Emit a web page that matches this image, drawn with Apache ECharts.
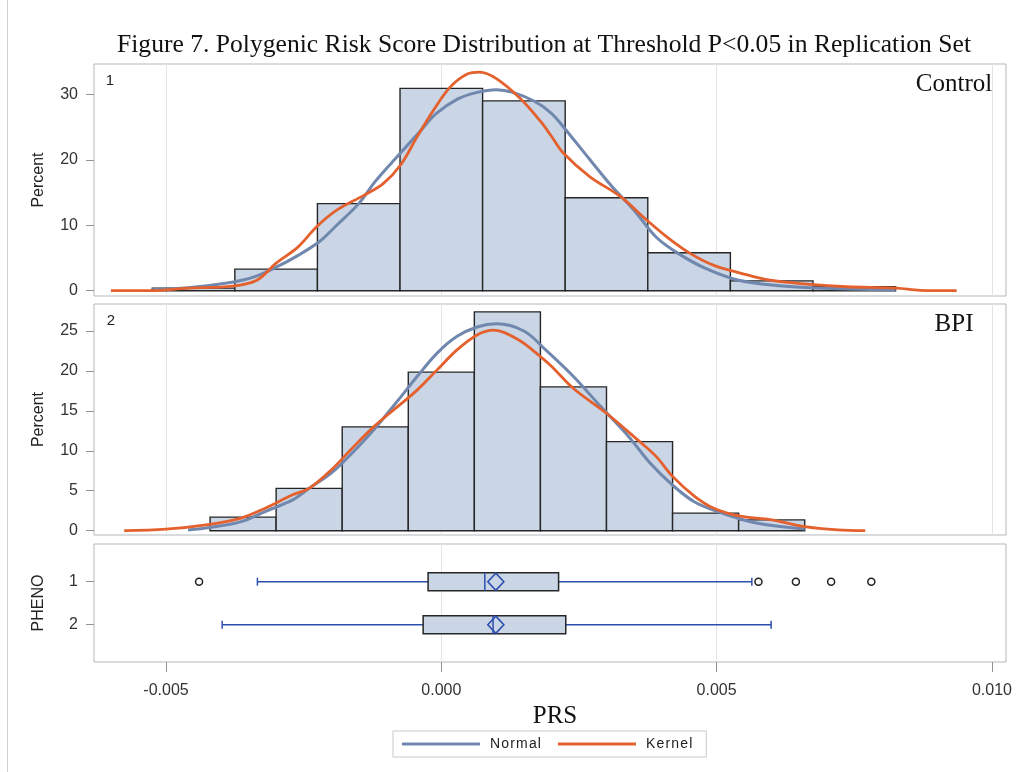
<!DOCTYPE html>
<html><head><meta charset="utf-8">
<script src="https://cdn.jsdelivr.net/npm/echarts@6/dist/echarts.min.js"></script>
<style>html,body{margin:0;padding:0;background:#fff}#c{width:1023px;height:772px}</style>
</head><body><div id="c"></div>
<script>
// ---------- data ----------
const titleText = 'Figure 7. Polygenic Risk Score Distribution at Threshold P<0.05 in Replication Set';
const groupNames = ['Control', 'BPI'];
const phenoLabels = ['1', '2'];

const xTicks = [-0.005, 0, 0.005, 0.010];
const xTickLabels = ['-0.005', '0.000', '0.005', '0.010'];
const yTicksCtrl = [0, 10, 20, 30];
const yTicksBpi = [0, 5, 10, 15, 20, 25];
const yTicksPheno = [1, 2];

// histogram: bin centres and percent heights
const ctrlBinWidth = 0.0015;
const ctrlBinCenters = [-0.0045, -0.003, -0.0015, 0, 0.0015, 0.003, 0.0045, 0.006, 0.0075];
const ctrlPercent = [0.4, 3.3, 13.3, 30.9, 29.0, 14.2, 5.8, 1.5, 0.6];

const bpiBinWidth = 0.0012;
const bpiBinCenters = [-0.0036, -0.0024, -0.0012, 0, 0.0012, 0.0024, 0.0036, 0.0048, 0.006];
const bpiPercent = [1.7, 5.3, 13.0, 19.85, 27.4, 18.0, 11.15, 2.2, 1.35];

// density curves
const ctrlNormalX = [-0.00525, -0.0046, -0.0038, -0.0034, -0.0030, -0.0026, -0.0022, -0.0019, -0.0015, -0.0012, -0.0008, -0.0004, -0.0001, 0.0003, 0.00065, 0.001, 0.0013, 0.0017, 0.0020, 0.0022, 0.0027, 0.0031, 0.0035, 0.0039, 0.0043, 0.0048, 0.0054, 0.0062, 0.0068, 0.00825];
const ctrlNormalY = [0.2, 0.45, 1.3, 2.1, 3.6, 5.4, 7.6, 10.0, 13.3, 16.7, 20.5, 24.2, 27.0, 29.3, 30.3, 30.7, 30.3, 28.9, 27.1, 25.2, 20.0, 15.9, 12.3, 8.2, 5.7, 3.4, 1.6, 0.7, 0.4, 0.1];

const ctrlKernelX = [-0.0060, -0.0053, -0.0046, -0.0038, -0.00335, -0.0030, -0.0026, -0.00226, -0.0019, -0.0014, -0.00105, -0.00074, -0.00044, -0.00014, 0.00016, 0.00047, 0.0007, 0.001, 0.00143, 0.0018, 0.0020, 0.00222, 0.0027, 0.00325, 0.00373, 0.0041, 0.00452, 0.00494, 0.00543, 0.00597, 0.00664, 0.00736, 0.00827, 0.0087, 0.00936];
const ctrlKernelY = [0.0, 0.0, 0.4, 0.7, 1.6, 4.2, 6.7, 9.8, 12.3, 14.6, 16.4, 19.2, 23.5, 27.6, 31.1, 33.1, 33.4, 32.4, 29.4, 25.9, 23.6, 21.0, 17.4, 14.4, 10.8, 8.2, 5.7, 3.9, 2.7, 1.6, 1.0, 0.6, 0.4, 0.05, 0.0];

const bpiNormalX = [-0.0046, -0.0042, -0.00365, -0.0032, -0.0027, -0.0024, -0.0020, -0.00165, -0.00123, -0.0008, -0.00044, -0.00008, 0.00028, 0.00065, 0.001, 0.0015, 0.0019, 0.0024, 0.0029, 0.0034, 0.0038, 0.0042, 0.0046, 0.0051, 0.0057, 0.0066];
const bpiNormalY = [0.1, 0.4, 1.1, 2.4, 3.85, 5.3, 7.2, 9.5, 12.6, 16.2, 19.3, 22.2, 24.3, 25.5, 25.9, 25.0, 22.6, 19.3, 15.5, 11.8, 8.4, 5.7, 3.6, 2.2, 1.0, 0.2];

const bpiKernelX = [-0.00576, -0.0050, -0.0042, -0.00365, -0.0032, -0.0027, -0.0024, -0.0020, -0.00165, -0.00123, -0.0008, -0.00044, -0.00008, 0.00028, 0.00065, 0.00095, 0.0014, 0.0018, 0.0020, 0.0024, 0.0030, 0.00356, 0.0039, 0.0042, 0.0046, 0.00495, 0.0054, 0.0060, 0.0066, 0.0072, 0.0077];
const bpiKernelY = [0.0, 0.2, 0.8, 1.55, 2.8, 4.5, 5.3, 7.6, 10.1, 13.0, 15.5, 17.6, 20.1, 22.6, 24.5, 25.1, 23.9, 21.8, 20.6, 17.8, 14.7, 11.4, 9.3, 6.8, 4.3, 2.8, 1.85, 1.35, 0.5, 0.1, 0.0];

// box plot: [PHENO, lower whisker, Q1, median, Q3, upper whisker, mean]
const boxPheno = [1, 2];
const boxLow = [-0.00334, -0.00398];
const boxQ1 = [-0.00024, -0.00033];
const boxMedian = [0.00079, 0.00094];
const boxQ3 = [0.00213, 0.00226];
const boxHigh = [0.00564, 0.00599];
const boxMean = [0.00099, 0.00099];
const outlierX = [-0.0044, 0.00576, 0.00644, 0.00708, 0.00781];
const outlierPheno = [1, 1, 1, 1, 1];

const legendNames = ['Normal', 'Kernel'];

// ---------- styles ----------
const SANS = "'Liberation Sans', Arial, sans-serif";
const SERIF = "'Liberation Serif', 'Times New Roman', serif";
const BAR_FILL = '#cad5e5';
const BAR_EDGE = '#262626';
const NORMAL_C = '#7087ae';
const KERNEL_C = '#e4602d';
const BOX_BLUE = '#2b4fae';
const BORDER = '#b3b8bc';
const GRIDLINE = '#e3e3e3';
const TICK = '#8e9398';
const X_MIN = -0.006308, X_MAX = 0.010256;

const zip = (a, b) => a.map((v, i) => [v, b[i]]);

const chart = echarts.init(document.getElementById('c'), null, { renderer: 'canvas' });

function gridDef(top, height) {
  return { left: 94, top: top, width: 912, height: height, show: true, borderColor: BORDER, borderWidth: 1, backgroundColor: '#fff', containLabel: false, outerBoundsMode: 'none' };
}

function xAxisDef(idx, bottom) {
  return {
    type: 'value', gridIndex: idx, min: X_MIN, max: X_MAX, splitNumber: 3, position: 'bottom',
    axisLine: { show: false, onZero: false },
    axisTick: bottom ? { show: true, customValues: xTicks, length: 10, lineStyle: { color: TICK } } : { show: false },
    axisLabel: bottom ? {
      show: true, customValues: xTicks, margin: 21, fontSize: 16, fontFamily: SANS, color: '#333',
      formatter: v => { const i = xTicks.findIndex(t => Math.abs(t - v) < 1e-9); return i >= 0 ? xTickLabels[i] : ''; }
    } : { show: false },
    splitLine: { show: true, showMinLine: false, showMaxLine: false, lineStyle: { color: GRIDLINE, width: 1 } }
  };
}

function yAxisDef(idx, min, max, ticks, name, inverse) {
  return {
    type: 'value', gridIndex: idx, min: min, max: max, inverse: !!inverse, position: 'left',
    name: name, nameLocation: 'middle', nameGap: 47,
    nameTextStyle: { fontSize: 16, fontFamily: SANS, color: '#222' },
    axisLine: { show: false, onZero: false },
    axisTick: { show: true, customValues: ticks, length: 8, lineStyle: { color: TICK } },
    axisLabel: { show: true, customValues: ticks, margin: 16, fontSize: 16, fontFamily: SANS, color: '#333' },
    splitLine: { show: false }
  };
}

function histSeries(idx, centers, vals, width) {
  return {
    type: 'custom', xAxisIndex: idx, yAxisIndex: idx, silent: true,
    data: centers.map((c, i) => [c, vals[i], width]),
    renderItem: function (params, api) {
      const c = api.value(0), h = api.value(1), w = api.value(2);
      const p0 = api.coord([c - w / 2, h]);
      const p1 = api.coord([c + w / 2, 0]);
      return { type: 'rect', shape: { x: p0[0], y: p0[1], width: p1[0] - p0[0], height: p1[1] - p0[1] },
        style: { fill: BAR_FILL, stroke: BAR_EDGE, lineWidth: 1.4 } };
    }
  };
}

function lineSeries(idx, name, xs, ys, color, width) {
  return {
    type: 'line', name: name, xAxisIndex: idx, yAxisIndex: idx, data: zip(xs, ys),
    smooth: 0.35, showSymbol: false, symbol: 'none', silent: true,
    lineStyle: { color: color, width: width }, itemStyle: { color: color }
  };
}

const boxSeries = {
  type: 'custom', xAxisIndex: 2, yAxisIndex: 2, silent: true,
  data: boxPheno.map((p, i) => [p, boxLow[i], boxQ1[i], boxMedian[i], boxQ3[i], boxHigh[i], boxMean[i]]),
  renderItem: function (params, api) {
    const p = api.value(0);
    const lo = api.coord([api.value(1), p]);
    const q1 = api.coord([api.value(2), p]);
    const md = api.coord([api.value(3), p]);
    const q3 = api.coord([api.value(4), p]);
    const hi = api.coord([api.value(5), p]);
    const mn = api.coord([api.value(6), p]);
    const y = lo[1], hh = 9, cap = 4;
    const blue = { stroke: BOX_BLUE, lineWidth: 1.5, fill: null };
    return { type: 'group', children: [
      { type: 'line', shape: { x1: lo[0], y1: y, x2: q1[0], y2: y }, style: blue },
      { type: 'line', shape: { x1: q3[0], y1: y, x2: hi[0], y2: y }, style: blue },
      { type: 'line', shape: { x1: lo[0], y1: y - cap, x2: lo[0], y2: y + cap }, style: blue },
      { type: 'line', shape: { x1: hi[0], y1: y - cap, x2: hi[0], y2: y + cap }, style: blue },
      { type: 'rect', shape: { x: q1[0], y: y - hh, width: q3[0] - q1[0], height: 2 * hh }, style: { fill: BAR_FILL, stroke: BAR_EDGE, lineWidth: 1.5 } },
      { type: 'line', shape: { x1: md[0], y1: y - hh, x2: md[0], y2: y + hh }, style: blue },
      { type: 'polygon', shape: { points: [[mn[0] - 8, y], [mn[0], y - 8.5], [mn[0] + 8, y], [mn[0], y + 8.5]] }, style: { stroke: BOX_BLUE, lineWidth: 1.6, fill: 'none' } }
    ] };
  }
};

const outlierSeries = {
  type: 'scatter', xAxisIndex: 2, yAxisIndex: 2, silent: true,
  data: zip(outlierX, outlierPheno), symbol: 'circle', symbolSize: 7,
  itemStyle: { color: '#fff', borderColor: '#222', borderWidth: 1.5, opacity: 1 }
};

const option = {
  animation: false,
  backgroundColor: '#fff',
  grid: [gridDef(64, 232), gridDef(304, 231), gridDef(544, 118)],
  xAxis: [xAxisDef(0, false), xAxisDef(1, false), xAxisDef(2, true)],
  yAxis: [
    yAxisDef(0, -0.81, 34.63, yTicksCtrl, 'Percent'),
    yAxisDef(1, -0.54, 28.38, yTicksBpi, 'Percent'),
    yAxisDef(2, 0.123, 2.867, yTicksPheno, 'PHENO', true)
  ],
  legend: {
    data: legendNames, left: 393, top: 731, orient: 'horizontal',
    icon: 'rect', itemWidth: 78, itemHeight: 3, itemGap: 17,
    padding: [6, 14, 6, 9], borderColor: '#c9c9c9', borderWidth: 1, borderRadius: 0,
    formatter: n => n.split('').join('\u200A'),
    textStyle: { fontSize: 14, fontFamily: SANS, color: '#222', padding: [0, 0, 0, 5] },
    selectedMode: false
  },
  series: [
    histSeries(0, ctrlBinCenters, ctrlPercent, ctrlBinWidth),
    lineSeries(0, 'Normal', ctrlNormalX, ctrlNormalY, NORMAL_C, 3),
    lineSeries(0, 'Kernel', ctrlKernelX, ctrlKernelY, KERNEL_C, 2.8),
    histSeries(1, bpiBinCenters, bpiPercent, bpiBinWidth),
    lineSeries(1, 'Normal', bpiNormalX, bpiNormalY, NORMAL_C, 3),
    lineSeries(1, 'Kernel', bpiKernelX, bpiKernelY, KERNEL_C, 2.8),
    boxSeries,
    outlierSeries
  ],
  graphic: [
    { type: 'line', shape: { x1: 7.5, y1: 0, x2: 7.5, y2: 772 }, style: { stroke: '#cfcfcf', lineWidth: 1 }, silent: true },
    { type: 'text', x: 544, y: 45, style: { text: titleText, font: '25.6px ' + SERIF, fill: '#111', align: 'center', verticalAlign: 'middle' }, silent: true },
    { type: 'text', x: 954, y: 84, style: { text: groupNames[0], font: '25px ' + SERIF, fill: '#111', align: 'center', verticalAlign: 'middle' }, silent: true, z: 100 },
    { type: 'text', x: 954, y: 324, style: { text: groupNames[1], font: '25px ' + SERIF, fill: '#111', align: 'center', verticalAlign: 'middle' }, silent: true, z: 100 },
    { type: 'text', x: 110, y: 81, style: { text: phenoLabels[0], font: '15px ' + SANS, fill: '#222', align: 'center', verticalAlign: 'middle' }, silent: true, z: 100 },
    { type: 'text', x: 111, y: 321, style: { text: phenoLabels[1], font: '15px ' + SANS, fill: '#222', align: 'center', verticalAlign: 'middle' }, silent: true, z: 100 },
    { type: 'text', x: 555, y: 716, style: { text: 'PRS', font: '25px ' + SERIF, fill: '#111', align: 'center', verticalAlign: 'middle' }, silent: true }
  ]
};
chart.setOption(option);
</script></body></html>
